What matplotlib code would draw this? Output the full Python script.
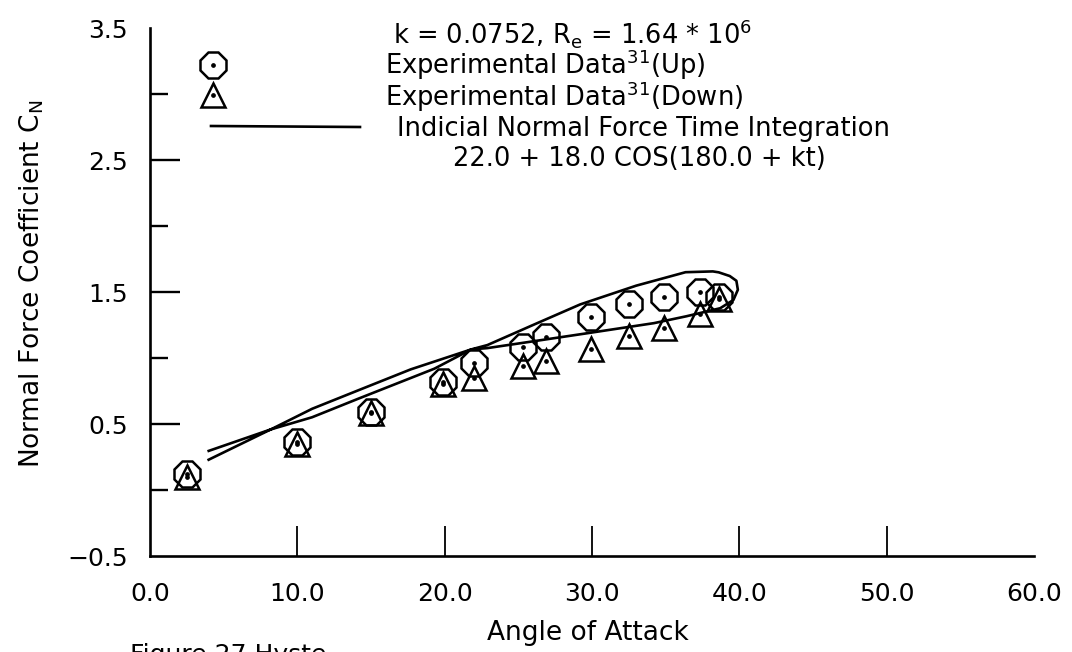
import matplotlib
matplotlib.use("Agg")
import matplotlib.pyplot as plt
import numpy as np

# ---------------- data ----------------
# Experimental data: angle of attack (deg) and normal force coefficient
alpha_exp = [2.5, 10.0, 15.0, 19.9, 22.0, 25.3, 26.9, 29.9, 32.5, 34.9, 37.3, 38.6]
cn_up = [0.12, 0.36, 0.59, 0.82, 0.96, 1.08, 1.16, 1.31, 1.41, 1.46, 1.50, 1.46]
cn_down = [0.10, 0.35, 0.58, 0.80, 0.85, 0.94, 0.98, 1.07, 1.17, 1.23, 1.33, 1.45]

# Indicial normal force time integration (hysteresis loop, in time order)
alpha_ind = [3.9, 8.2, 11.0, 14.4, 17.7, 21.8, 22.9, 25.2, 29.7, 34.2, 36.4,
             38.7, 39.6, 39.9, 39.8, 39.35, 38.6, 38.2, 36.35, 33.0, 29.2,
             26.2, 22.9, 21.8, 19.3, 14.1, 11.0, 8.2, 3.9]
cn_ind = [0.225, 0.459, 0.615, 0.767, 0.914, 1.065, 1.075, 1.113, 1.188, 1.264,
          1.316, 1.377, 1.44, 1.517, 1.585, 1.621, 1.649, 1.656, 1.650, 1.548,
          1.406, 1.260, 1.098, 1.065, 0.919, 0.690, 0.551, 0.459, 0.293]

x_ticks = [0, 10, 20, 30, 40, 50, 60]
x_ticklabels = ["0.0", "10.0", "20.0", "30.0", "40.0", "50.0", "60.0"]
y_ticks = [-0.5, 0.5, 1.5, 2.5, 3.5]
y_ticklabels = ["\u22120.5", "0.5", "1.5", "2.5", "3.5"]
y_minor = [0.0, 1.0, 2.0, 3.0]

legend_lines = [
    r"k = 0.0752, R$_\mathrm{e}$ = 1.64 * 10$^6$",
    r"Experimental Data$^{31}$(Up)",
    r"Experimental Data$^{31}$(Down)",
    "Indicial Normal Force Time Integration",
    "22.0 + 18.0 COS(180.0 + kt)",
]

# ---------------- figure ----------------
plt.rcParams['font.family'] = ['DejaVu Sans']
W, H = 1072, 652
fig = plt.figure(figsize=(W / 100, H / 100), dpi=100)

def fx(px):
    return px / W

def fy(py):
    return 1 - py / H

ax_l, ax_r, ax_t, ax_b = 150, 1034, 28, 556
ax = fig.add_axes([fx(ax_l), fy(ax_b), (ax_r - ax_l) / W, (ax_b - ax_t) / H])
ax.set_xlim(0, 60)
ax.set_ylim(-0.5, 3.5)

for s in ["top", "right"]:
    ax.spines[s].set_visible(False)
for s in ["left", "bottom"]:
    ax.spines[s].set_linewidth(1.9)

ax.set_xticks(x_ticks)
ax.set_xticklabels(x_ticklabels)
ax.set_yticks(y_ticks)
ax.set_yticklabels(y_ticklabels)
ax.set_yticks(y_minor, minor=True)

ax.tick_params(axis='x', which='major', direction='in', length=21.6, width=1.3,
               pad=18.5, labelsize=18)
ax.tick_params(axis='y', which='major', direction='in', length=21.6, width=1.7,
               pad=16, labelsize=18)
ax.tick_params(axis='y', which='minor', direction='in', length=13, width=1.7)

xt = ax.xaxis.get_major_ticks()
xt[0].tick1line.set_visible(False)
xt[-1].tick1line.set_visible(False)
yt = ax.yaxis.get_major_ticks()
yt[0].tick1line.set_visible(False)
yt[-1].tick1line.set_visible(False)

ax.set_xlabel("Angle of Attack", fontsize=19)
ax.xaxis.set_label_coords(0.4955, -0.122)
ax.set_ylabel(r"Normal Force Coefficient C$_\mathrm{N}$", fontsize=19)
ax.yaxis.set_label_coords(-0.118, 0.515)

# hysteresis curve
ax.plot(alpha_ind, cn_ind, color='black', lw=1.9, solid_joinstyle='round',
        solid_capstyle='butt', clip_on=False)

# experimental markers
mk = dict(ls='none', mfc='none', mec='black', mew=1.8, clip_on=False)
ax.plot(alpha_exp, cn_up, marker='8', ms=19.5, **mk)
ax.plot(alpha_exp, cn_down, marker='^', ms=17.5, **mk)
ax.plot(alpha_exp, cn_up, ls='none', marker='o', ms=2.4, color='black')
ax.plot(alpha_exp, cn_down, ls='none', marker='o', ms=2.4, color='black')

# ---------------- legend (manual layout) ----------------
def axfx(px):
    return (px - ax_l) / (ax_r - ax_l)

def axfy(py):
    return (ax_b - py) / (ax_b - ax_t)

ax.plot([axfx(213)], [axfy(65)], transform=ax.transAxes, marker='8', ms=19.5, **mk)
ax.plot([axfx(213)], [axfy(65)], transform=ax.transAxes, ls='none', marker='o',
        ms=2.4, color='black', clip_on=False)
ax.plot([axfx(213)], [axfy(95)], transform=ax.transAxes, marker='^', ms=17.5, **mk)
ax.plot([axfx(213)], [axfy(95)], transform=ax.transAxes, ls='none', marker='o',
        ms=2.4, color='black', clip_on=False)
ax.plot([axfx(211), axfx(360)], [axfy(126), axfy(127)], transform=ax.transAxes,
        color='black', lw=1.9, clip_on=False)

legend_pos = [(393, 43), (385, 74), (385, 106), (397, 136), (453, 166)]
for (px, py), txt in zip(legend_pos, legend_lines):
    fig.text(fx(px), fy(py), txt, fontsize=18.5, ha='left', va='baseline')

# partially visible caption at the bottom edge
fig.text(fx(130), fy(662), "Figure 27 Hyste", fontsize=18, ha='left', va='baseline')

fig.savefig("out.png", dpi=100, facecolor='white')
